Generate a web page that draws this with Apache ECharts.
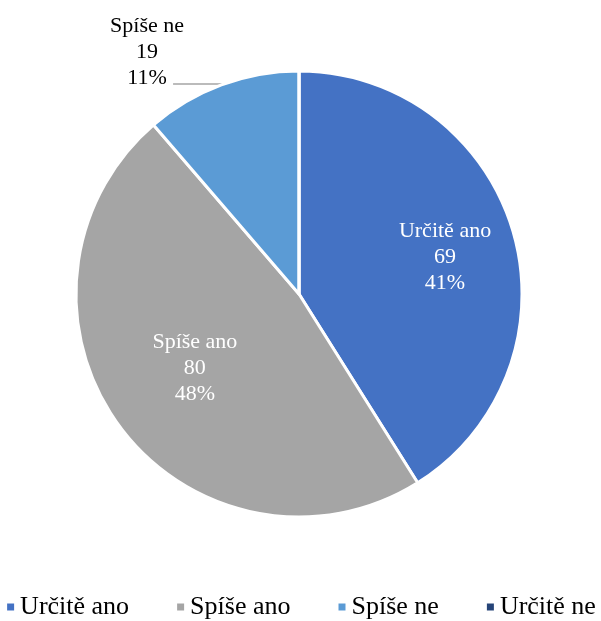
<!DOCTYPE html>
<html><head><meta charset="utf-8">
<script src="https://cdn.jsdelivr.net/npm/echarts@6/dist/echarts.min.js"></script>
<style>html,body{margin:0;padding:0;background:#fff}#c{width:601px;height:621px}</style>
</head><body><div id="c"></div>
<script>
var categories = ['Určitě ano', 'Spíše ano', 'Spíše ne', 'Určitě ne'];
var values = [69, 80, 19, 0];
var colors = ['#4472C4', '#A5A5A5', '#5B9BD5', '#264478'];
var percents = ['41%', '48%', '11%', '0%'];

var data = categories.map(function (n, i) {
  var d = { name: n, value: values[i], itemStyle: { color: colors[i] } };
  if (i === 2) {
    d.label = { position: 'outside', color: '#000' };
    d.labelLine = { show: true, length: 1, length2: 48, smooth: false, lineStyle: { color: '#A5A5A5', width: 1.5 } };
  }
  if (i === 3) { d.label = { show: false }; d.labelLine = { show: false }; }
  return d;
});
var shifts = [[36, -5], [-12, 6], [-21, -32], [0, 0]];

var chart = echarts.init(document.getElementById('c'));
chart.setOption({
  animation: false,
  color: colors,
  legend: {
    top: 589, left: 'center', icon: 'rect', itemWidth: 9, itemHeight: 9, itemGap: 46,
    textStyle: { fontFamily: 'Liberation Serif', fontSize: 26, color: '#000' },
    data: categories
  },
  series: [{
    type: 'pie',
    center: [299, 294],
    radius: [0, 223],
    startAngle: 90,
    clockwise: true,
    avoidLabelOverlap: false,
    stillShowZeroSum: false,
    itemStyle: { borderColor: '#fff', borderWidth: 3 },
    label: {
      show: true, position: 'inside', color: '#fff',
      fontFamily: 'Liberation Serif', fontSize: 22, lineHeight: 26, align: 'center',
      formatter: function (p) { return p.name + '\n' + p.value + '\n' + percents[p.dataIndex]; }
    },
    labelLine: { show: false },
    labelLayout: function (p) {
      var s = shifts[p.dataIndex];
      return { dx: s[0], dy: s[1], align: 'center' };
    },
    data: data
  }]
});
</script></body></html>
